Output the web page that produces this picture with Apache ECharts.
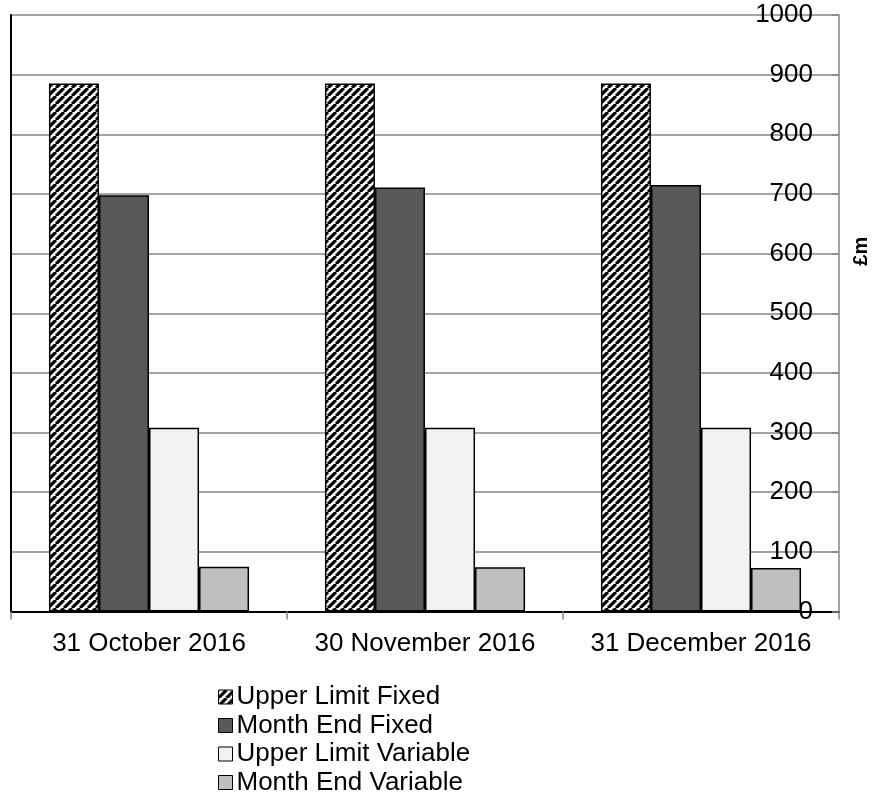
<!DOCTYPE html>
<html>
<head>
<meta charset="utf-8">
<script src="https://cdn.jsdelivr.net/npm/echarts@6/dist/echarts.min.js"></script>
<style>
  html, body { margin: 0; padding: 0; background: #ffffff; }
  #chart { width: 874px; height: 801px; }
</style>
</head>
<body>
<div id="chart"></div>
<script>
// Month-end dates
const categories = ['31 October 2016', '30 November 2016', '31 December 2016'];

// Series names and values (£m)
const seriesNames = ['Upper Limit Fixed', 'Month End Fixed', 'Upper Limit Variable', 'Month End Variable'];
const upperLimitFixed = [885, 885, 885];
const monthEndFixed = [698, 711, 715];
const upperLimitVariable = [308, 308, 308];
const monthEndVariable = [75, 74, 73];

// Value axis ticks
const yTicks = { min: 0, max: 1000, interval: 100 };

// Diagonal hatch fill (upward stripes)
function makeHatch() {
  const size = 8;
  const c = document.createElement('canvas');
  c.width = size; c.height = size;
  const ctx = c.getContext('2d');
  ctx.fillStyle = '#ffffff';
  ctx.fillRect(0, 0, size, size);
  ctx.strokeStyle = '#000000';
  ctx.lineWidth = 3.2;
  ctx.beginPath();
  for (let k = -1; k <= 1; k++) {
    ctx.moveTo(k * size, size);
    ctx.lineTo(k * size + size, 0);
  }
  ctx.stroke();
  return c;
}
const hatch = { image: makeHatch(), repeat: 'repeat' };

const fills = [hatch, '#595959', '#f2f2f2', '#bfbfbf'];
const values = [upperLimitFixed, monthEndFixed, upperLimitVariable, monthEndVariable];

const font = 'Liberation Sans, Arial, sans-serif';
const gridGray = '#868686';

const chart = echarts.init(document.getElementById('chart'), null, { renderer: 'canvas' });

chart.setOption({
  backgroundColor: '#ffffff',
  animation: false,
  textStyle: { fontFamily: font, color: '#000000' },
  grid: { left: 11, right: 35, top: 15, bottom: 189.5, containLabel: false, outerBoundsMode: 'none' },
  legend: {
    orient: 'vertical',
    left: 218,
    top: 684,
    padding: 0,
    itemWidth: 14,
    itemHeight: 14,
    itemGap: 2.5,
    icon: 'rect',
    data: seriesNames,
    itemStyle: { borderColor: '#000000', borderWidth: 1 },
    textStyle: { fontFamily: font, fontSize: 26, color: '#000000', lineHeight: 26, padding: [0, 0, 0, -1] }
  },
  xAxis: [
    {
      type: 'category',
      data: categories,
      position: 'bottom',
      axisLine: { show: true, lineStyle: { color: gridGray, width: 1.5 } },
      axisTick: { show: true, length: 8, lineStyle: { color: gridGray, width: 1.5 } },
      axisLabel: { interval: 0, fontFamily: font, fontSize: 26, color: '#000000', margin: 19 },
      splitLine: { show: false }
    },
    {
      // plot frame, top edge
      type: 'category',
      data: categories,
      position: 'top',
      axisLine: { show: true, lineStyle: { color: '#000000', width: 2 } },
      axisTick: { show: false },
      axisLabel: { show: false },
      splitLine: { show: false }
    }
  ],
  yAxis: [
    {
      type: 'value',
      position: 'right',
      min: yTicks.min,
      max: yTicks.max,
      interval: yTicks.interval,
      name: '£m',
      nameLocation: 'middle',
      nameRotate: 90,
      nameGap: 12,
      nameTextStyle: { fontFamily: font, fontSize: 20, fontWeight: 'bold', color: '#000000', padding: [0, 0, 0, 124] },
      axisLine: { show: true, lineStyle: { color: gridGray, width: 1.5 } },
      axisTick: { show: true, inside: true, length: 7, lineStyle: { color: gridGray, width: 1.5 } },
      axisLabel: { inside: true, margin: 26, fontFamily: font, fontSize: 26, color: '#000000', formatter: v => String(v) },
      splitLine: { show: true, lineStyle: { color: gridGray, width: 1.5 } }
    },
    {
      // plot frame, left edge
      type: 'value',
      position: 'left',
      min: yTicks.min,
      max: yTicks.max,
      interval: yTicks.interval,
      axisLine: { show: true, lineStyle: { color: '#000000', width: 2 } },
      axisTick: { show: false },
      axisLabel: { show: false },
      splitLine: { show: false }
    }
  ],
  series: seriesNames.map((name, i) => ({
    name: name,
    type: 'bar',
    xAxisIndex: 0,
    yAxisIndex: 0,
    data: values[i],
    barGap: '0%',
    barCategoryGap: '27.5%',
    itemStyle: { color: fills[i], borderColor: '#000000', borderWidth: 1.5 },
    emphasis: { disabled: true }
  }))
});
</script>
</body>
</html>
